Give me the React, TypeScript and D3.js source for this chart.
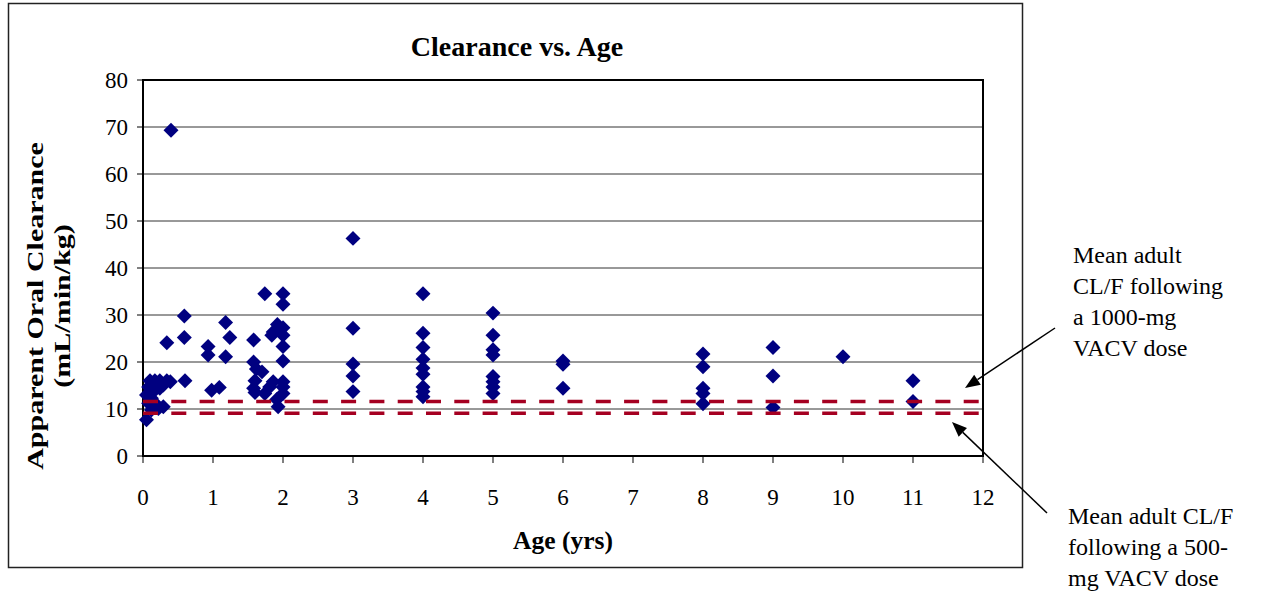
import React from "react";
import * as d3 from "d3";

// ---- Data ----
const ages = [
  0.40, 0.05, 0.12, 0.22, 0.08, 0.17, 0.29, 0.05, 0.12, 0.08, 0.15, 0.24, 0.29, 0.10, 0.17, 0.24, 0.34, 0.39,
  0.34, 0.59, 0.59, 0.60, 0.93, 0.93, 0.98, 1.09, 1.18, 1.18, 1.24,
  1.58, 1.58, 1.62, 1.70, 1.60, 1.58, 1.60, 1.74, 1.74, 1.81, 1.86, 1.84, 1.86, 1.92, 1.91, 1.93,
  2.0, 2.0, 2.0, 2.0, 2.0, 2.0, 2.0, 2.0, 2.0,
  3.0, 3.0, 3.0, 3.0, 3.0,
  4.0, 4.0, 4.0, 4.0, 4.0, 4.0, 4.0, 4.0, 4.0,
  5.0, 5.0, 5.0, 5.0, 5.0, 5.0, 5.0, 5.0,
  6.0, 6.0, 6.0,
  8.0, 8.0, 8.0, 8.0, 8.0,
  9.0, 9.0, 9.0,
  10.0,
  11.0, 11.0,
];
const clearance = [
  69.3, 7.7, 9.8, 10.1, 11.2, 11.3, 10.5, 13.0, 12.3, 14.7, 13.7, 14.4, 15.1, 16.0, 16.0, 16.0, 16.0, 15.8,
  24.1, 29.8, 25.2, 16.0, 23.3, 21.5, 14.0, 14.6, 28.4, 21.1, 25.2,
  24.7, 20.0, 18.5, 17.9, 16.0, 14.4, 13.5, 34.5, 13.3, 14.7, 15.8, 25.7, 26.4, 28.0, 12.0, 10.5,
  34.5, 32.3, 27.3, 25.7, 23.3, 20.2, 15.8, 14.7, 13.3,
  46.3, 27.2, 19.6, 17.0, 13.7,
  34.5, 26.1, 23.1, 20.6, 18.7, 17.4, 14.7, 13.7, 12.6,
  30.4, 25.7, 22.6, 21.5, 16.9, 15.8, 14.7, 13.3,
  20.2, 19.5, 14.4,
  21.7, 19.0, 14.4, 13.3, 11.1,
  23.1, 17.0, 10.3,
  21.1,
  16.0, 11.6,
];
const xTicks = [0, 1, 2, 3, 4, 5, 6, 7, 8, 9, 10, 11, 12];
const yTicks = [0, 10, 20, 30, 40, 50, 60, 70, 80];
const adultMeans = [11.6, 9.1]; // 1000-mg, 500-mg
const note1000 = ["Mean adult", "CL/F following", "a 1000-mg", "VACV dose"];
const note500 = ["Mean adult CL/F", "following a 500-", "mg VACV dose"];
const title = "Clearance vs. Age";
const xTitle = "Age (yrs)";
const yTitle = ["Apparent Oral Clearance", "(mL/min/kg)"];

const FONT = "'Liberation Serif', 'Times New Roman', serif";

export default function App() {
  const W = 1267, H = 592;
  const x = d3.scaleLinear().domain([0, 12]).range([143, 983]);
  const y = d3.scaleLinear().domain([0, 80]).range([456, 80]);
  const diamond = d3.symbol().type(d3.symbolSquare).size(112)() as string;
  const pts = ages.map((a, i) => ({ a, c: clearance[i] }));

  const arrow = (x1: number, y1: number, x2: number, y2: number) => {
    const ang = Math.atan2(y2 - y1, x2 - x1);
    const L = 15, Wd = 6;
    const bx = x2 - L * Math.cos(ang), by = y2 - L * Math.sin(ang);
    const px = -Math.sin(ang) * Wd, py = Math.cos(ang) * Wd;
    return (
      <g>
        <line x1={x1} y1={y1} x2={bx} y2={by} stroke="#000" strokeWidth={1.5} />
        <path d={`M${x2},${y2}L${bx + px},${by + py}L${bx - px},${by - py}Z`} fill="#000" />
      </g>
    );
  };

  return (
    <svg width={W} height={H} style={{ position: "absolute", left: 0, top: 0, background: "#fff" }} fontFamily={FONT}>
      {/* outer frame */}
      <rect x={8.5} y={3.5} width={1014} height={564} fill="#fff" stroke="#222" strokeWidth={1.5} />

      {/* title */}
      <text x={517} y={56} textAnchor="middle" fontSize={28} fontWeight="bold">{title}</text>

      {/* gridlines */}
      {yTicks.filter(t => t > 0 && t < 80).map(t => (
        <line key={t} x1={x(0)} x2={x(12)} y1={y(t)} y2={y(t)} stroke="#333" strokeWidth={1} />
      ))}
      {/* plot border */}
      <rect x={x(0)} y={y(80)} width={x(12) - x(0)} height={y(0) - y(80)} fill="none" stroke="#000" strokeWidth={2} />

      {/* y ticks and labels */}
      {yTicks.map(t => (
        <g key={t}>
          <line x1={x(0) - 6} x2={x(0)} y1={y(t)} y2={y(t)} stroke="#000" strokeWidth={1} />
          <text x={128} y={y(t)} dy="0.35em" textAnchor="end" fontSize={23}>{t}</text>
        </g>
      ))}
      {/* x ticks and labels */}
      {xTicks.map(t => (
        <g key={t}>
          <line x1={x(t)} x2={x(t)} y1={y(0)} y2={y(0) + 7} stroke="#000" strokeWidth={1} />
          <text x={x(t)} y={505} textAnchor="middle" fontSize={23}>{t}</text>
        </g>
      ))}

      {/* axis titles */}
      <text x={563} y={549} textAnchor="middle" fontSize={25.5} fontWeight="bold">{xTitle}</text>
      <text transform="translate(43,306) rotate(-90) scale(1.25,1)" textAnchor="middle" fontSize={24} fontWeight="bold">{yTitle[0]}</text>
      <text transform="translate(70,306) rotate(-90) scale(1.25,1)" textAnchor="middle" fontSize={24} fontWeight="bold">{yTitle[1]}</text>

      {/* markers */}
      {pts.map((p, i) => (
        <path key={i} d={diamond} transform={`translate(${x(p.a)},${y(p.c)}) rotate(45)`} fill="#000080" />
      ))}

      {/* adult mean dashed lines */}
      {adultMeans.map((m, i) => (
        <line key={i} x1={x(0)} x2={x(12)} y1={y(m)} y2={y(m)} stroke="#A50021" strokeWidth={3.5} strokeDasharray="15 13.3" />
      ))}

      {/* annotations */}
      {note1000.map((s, i) => (
        <text key={i} x={1073} y={263 + i * 31} fontSize={24}>{s}</text>
      ))}
      {note500.map((s, i) => (
        <text key={i} x={1068} y={524 + i * 31} fontSize={24}>{s}</text>
      ))}
      {arrow(1055, 328, 965, 388)}
      {arrow(1047, 513, 952, 422)}
    </svg>
  );
}
